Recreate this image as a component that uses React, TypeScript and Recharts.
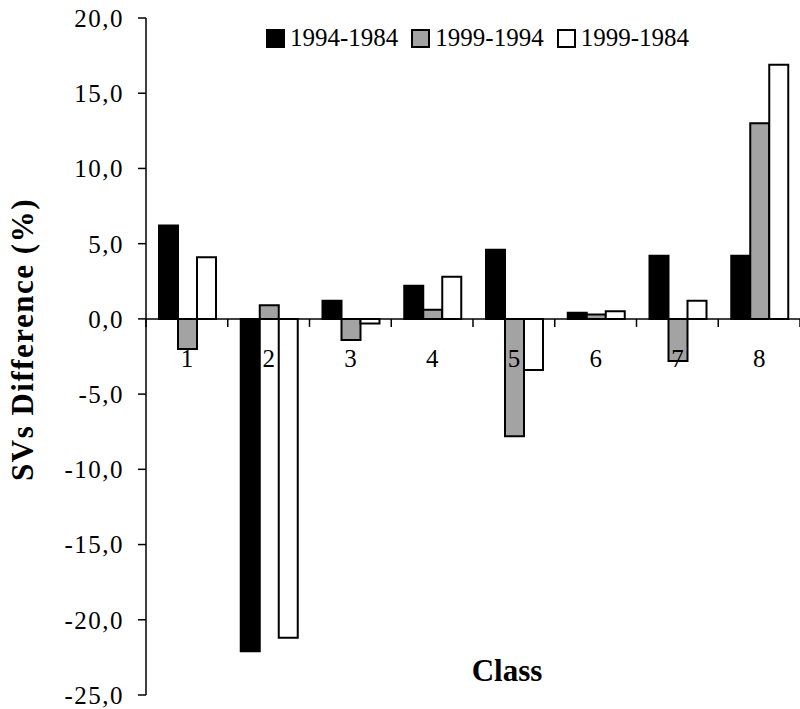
import React from 'react';
import { BarChart, Bar, XAxis, YAxis, ReferenceLine, Legend } from 'recharts';

const categories = ['1', '2', '3', '4', '5', '6', '7', '8'];
const s1994_1984 = [6.2, -22.1, 1.2, 2.2, 4.6, 0.4, 4.2, 4.2];
const s1999_1994 = [-2.0, 0.9, -1.4, 0.6, -7.8, 0.3, -2.8, 13.0];
const s1999_1984 = [4.1, -21.2, -0.3, 2.8, -3.4, 0.5, 1.2, 16.9];
const yTicks = [-25, -20, -15, -10, -5, 0, 5, 10, 15, 20];
const seriesNames = ['1994-1984', '1999-1994', '1999-1984'];
const seriesColors = ['#000000', '#a3a3a3', '#ffffff'];

const data = categories.map((c, i) => ({
  name: c,
  a: s1994_1984[i],
  b: s1999_1994[i],
  c: s1999_1984[i],
}));

const W = 800;
const H = 709;
const TOP = 18;
const BOTTOM_AXIS_H = 14;
const YAXIS_W = 146;
const Y_MIN = -25;
const Y_MAX = 20;
const PLOT_H = H - TOP - BOTTOM_AXIS_H;
const PLOT_W = W - YAXIS_W;
const BAND = PLOT_W / categories.length;
const ZERO_Y = TOP + (PLOT_H * Y_MAX) / (Y_MAX - Y_MIN);

const FONT = '"Liberation Serif", "Times New Roman", serif';

const fmt = (v: number) => v.toFixed(1).replace('.', ',');

const XTick = (props: any) => {
  const { x, index } = props;
  const label = props.payload?.value;
  return (
    <g>
      <line x1={x - BAND / 2} x2={x - BAND / 2} y1={ZERO_Y} y2={ZERO_Y + 8} stroke="#000" strokeWidth={1.5} />
      {index === categories.length - 1 && (
        <line x1={x + BAND / 2} x2={x + BAND / 2} y1={ZERO_Y} y2={ZERO_Y + 8} stroke="#000" strokeWidth={1.5} />
      )}
      <text x={x} y={ZERO_Y + 40} textAnchor="middle" dominantBaseline="central" fontFamily={FONT} fontSize={25} fill="#000">
        {label}
      </text>
    </g>
  );
};

const LegendContent = () => (
  <div style={{ display: 'flex', alignItems: 'center', fontFamily: FONT, fontSize: 25, color: '#000', whiteSpace: 'nowrap' }}>
    {seriesNames.map((n, i) => (
      <div key={n} style={{ display: 'flex', alignItems: 'center', marginRight: i < 2 ? 13 : 0 }}>
        <span style={{ display: 'inline-block', width: 15, height: 15, background: seriesColors[i], border: '2px solid #000', marginRight: 5 }} />
        <span>{n}</span>
      </div>
    ))}
  </div>
);

export default function App() {
  return (
    <div style={{ position: 'absolute', left: 0, top: 0, width: W, height: H, background: '#fff' }}>
      <BarChart
        width={W}
        height={H}
        data={data}
        margin={{ top: TOP, right: 0, bottom: 0, left: 0 }}
        barCategoryGap={13}
        barGap={0}
      >
        <YAxis
          width={YAXIS_W}
          domain={[Y_MIN, Y_MAX]}
          ticks={yTicks}
          interval={0}
          tickFormatter={fmt}
          tickSize={8}
          tickMargin={14}
          axisLine={{ stroke: '#000', strokeWidth: 1.5 }}
          tickLine={{ stroke: '#000', strokeWidth: 1.5 }}
          tick={{ fontFamily: FONT, fontSize: 25, fill: '#000', letterSpacing: 1.5 }}
          label={{
            content: (p: any) => {
              const vb = p.viewBox || { x: 0, y: TOP, height: PLOT_H };
              const cx = 22;
              const cy = vb.y + vb.height / 2 - 17;
              return (
                <text
                  x={cx}
                  y={cy}
                  transform={`rotate(-90 ${cx} ${cy})`}
                  textAnchor="middle"
                  dominantBaseline="central"
                  fontFamily={FONT}
                  fontWeight="bold"
                  fontSize={31}
                  letterSpacing={1.5}
                  fill="#000"
                >
                  SVs Difference (%)
                </text>
              );
            },
          }}
        />
        <XAxis
          dataKey="name"
          height={BOTTOM_AXIS_H}
          axisLine={false}
          tickLine={false}
          interval={0}
          tick={<XTick />}
          label={{
            content: (p: any) => {
              const vb = p.viewBox || { x: YAXIS_W, y: H - BOTTOM_AXIS_H, width: PLOT_W };
              return (
                <text
                  x={vb.x + vb.width / 2 + 34}
                  y={vb.y - 25}
                  textAnchor="middle"
                  dominantBaseline="central"
                  fontFamily={FONT}
                  fontWeight="bold"
                  fontSize={31}
                  fill="#000"
                >
                  Class
                </text>
              );
            },
          }}
        />
        <Legend
          layout="horizontal"
          verticalAlign="middle"
          align="center"
          content={<LegendContent />}
          wrapperStyle={{ top: 24, left: 266, width: 'auto' }}
        />
        <ReferenceLine y={0} stroke="#000" strokeWidth={1.5} />
        <Bar dataKey="a" name={seriesNames[0]} fill={seriesColors[0]} stroke="#000" strokeWidth={2} isAnimationActive={false} />
        <Bar dataKey="b" name={seriesNames[1]} fill={seriesColors[1]} stroke="#000" strokeWidth={2} isAnimationActive={false} />
        <Bar dataKey="c" name={seriesNames[2]} fill={seriesColors[2]} stroke="#000" strokeWidth={2} isAnimationActive={false} />
      </BarChart>
    </div>
  );
}
